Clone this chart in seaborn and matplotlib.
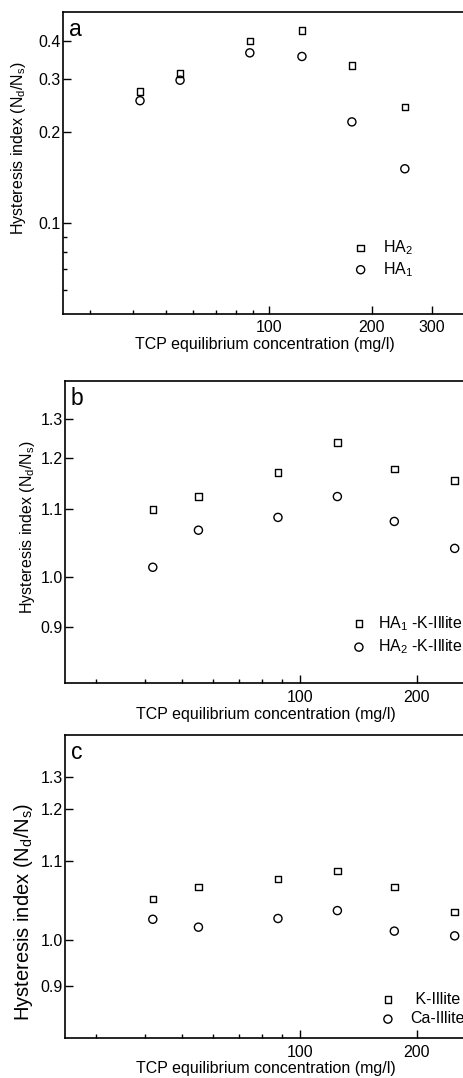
import numpy as np
import seaborn as sns
import matplotlib.pyplot as plt
from matplotlib.ticker import FixedLocator, NullFormatter, FormatStrFormatter

sns.set_style('ticks')
plt.rcParams['font.family'] = ['Liberation Sans', 'DejaVu Sans']
plt.rcParams['mathtext.fontset'] = 'custom'
plt.rcParams['mathtext.rm'] = 'Liberation Sans'
plt.rcParams['mathtext.it'] = 'Liberation Sans:italic'
plt.rcParams['text.color'] = 'black'
plt.rcParams['axes.labelcolor'] = 'black'
plt.rcParams['xtick.color'] = 'black'
plt.rcParams['ytick.color'] = 'black'

# TCP equilibrium concentration (mg/l)
conc = [42, 55, 88, 125, 175, 250]

# panel a
a_ha2 = [0.272, 0.313, 0.401, 0.434, 0.332, 0.242]
a_ha1 = [0.254, 0.297, 0.366, 0.356, 0.216, 0.151]
# panel b
b_ha1_k = [1.100, 1.125, 1.172, 1.240, 1.179, 1.156]
b_ha2_k = [1.014, 1.069, 1.088, 1.125, 1.082, 1.042]
# panel c
c_k = [1.052, 1.067, 1.077, 1.087, 1.067, 1.035]
c_ca = [1.026, 1.016, 1.027, 1.037, 1.011, 1.005]

y_ticks_bc = [0.9, 1.0, 1.1, 1.2, 1.3]

# the original y axes of b and c are unevenly spaced; positions (px from bottom)
b_scale_vals = [0.8, 0.9, 1.0, 1.1, 1.2, 1.3, 1.4]
b_scale_pos = [0, 56, 106.6, 174, 225, 264, 302.3]
c_scale_pos = [0, 51.6, 98.3, 177.3, 229.3, 261.6, 303.3]

W, H = 464, 1078
fig = plt.figure(figsize=(W / 100, H / 100), dpi=100)


def px_axes(left, top, right, bottom):
    return fig.add_axes([left / W, 1 - bottom / H, (right - left) / W, (bottom - top) / H])


ax_a = px_axes(63, 12, 467, 313.5)
ax_b = px_axes(65, 381, 467.7, 683.3)
ax_c = px_axes(65, 735, 467.7, 1038)

FS = 11.5
sq = dict(marker='s', s=22, facecolor='none', edgecolor='black', linewidth=1.0)
ci = dict(marker='o', s=34, facecolor='none', edgecolor='black', linewidth=1.0)

sns.scatterplot(x=conc, y=a_ha2, label='HA$_2$', ax=ax_a, **sq)
sns.scatterplot(x=conc, y=a_ha1, label='HA$_1$', ax=ax_a, **ci)

sns.scatterplot(x=conc, y=b_ha1_k, label='HA$_1$ -K-Illite', ax=ax_b, **sq)
sns.scatterplot(x=conc, y=b_ha2_k, label='HA$_2$ -K-Illite', ax=ax_b, **ci)

sns.scatterplot(x=conc, y=c_k, label=' K-Illite', ax=ax_c, **sq)
sns.scatterplot(x=conc, y=c_ca, label='Ca-Illite', ax=ax_c, **ci)


def make_scale(pos):
    fwd = lambda y: np.interp(y, b_scale_vals, pos)
    inv = lambda p: np.interp(p, pos, b_scale_vals)
    return fwd, inv


# axes a
ax_a.set_xscale('log')
ax_a.set_yscale('log')
ax_a.set_xlim(25, 380)
ax_a.set_ylim(0.05, 0.5)
ax_a.xaxis.set_major_locator(FixedLocator([100, 200, 300]))
ax_a.yaxis.set_major_locator(FixedLocator([0.1, 0.2, 0.3, 0.4]))
ax_a.yaxis.set_minor_locator(FixedLocator([0.06, 0.07, 0.08, 0.09]))
ax_a.yaxis.set_major_formatter(FormatStrFormatter('%.1f'))

# axes b, c
ax_b.set_yscale('function', functions=make_scale(b_scale_pos))
ax_c.set_yscale('function', functions=make_scale(c_scale_pos))
for ax in (ax_b, ax_c):
    ax.set_xscale('log')
    ax.set_xlim(25, 270)
    ax.set_ylim(0.8, 1.4)
    ax.xaxis.set_major_locator(FixedLocator([100, 200]))
    ax.yaxis.set_major_locator(FixedLocator(y_ticks_bc))
    ax.yaxis.set_minor_locator(FixedLocator([]))
    ax.yaxis.set_major_formatter(FormatStrFormatter('%.1f'))

ylab = 'Hysteresis index (N$_\\mathrm{d}$/N$_\\mathrm{s}$)'
label_x = {ax_a: (28.5, 63, 404, 147.5, 12, 301.5, FS),
           ax_b: (37, 65, 402.7, 526.5, 381, 302.3, FS),
           ax_c: (35, 65, 402.7, 911.5, 735, 303, 14.5)}

for ax, letter in ((ax_a, 'a'), (ax_b, 'b'), (ax_c, 'c')):
    ax.xaxis.set_major_formatter(FormatStrFormatter('%d'))
    ax.xaxis.set_minor_locator(FixedLocator([30, 40, 50, 60, 70, 80, 90]))
    ax.xaxis.set_minor_formatter(NullFormatter())
    ax.yaxis.set_minor_formatter(NullFormatter())
    ax.tick_params(which='both', direction='in', top=False, right=False,
                   width=1.0, labelsize=FS)
    ax.tick_params(which='major', length=6)
    ax.tick_params(which='minor', length=3)
    ax.tick_params(axis='x', pad=5)
    ax.tick_params(axis='y', pad=1.5)
    for sp in ax.spines.values():
        sp.set_linewidth(1.2)
        sp.set_color('black')
    ax.spines['right'].set_visible(False)
    ax.set_xlabel('TCP equilibrium concentration (mg/l)', fontsize=FS, labelpad=1)
    rx, left, width, cy, top, height, lfs = label_x[ax]
    ax.set_ylabel(ylab, fontsize=lfs)
    ax.yaxis.set_label_coords((rx - left) / width, (top + height - cy) / height)
    ax.text(0.015, 0.92, letter, transform=ax.transAxes, fontsize=16.5,
            ha='left', va='baseline')

ax_a.legend(loc='center left', bbox_to_anchor=(0.717, 0.183), frameon=False,
            fontsize=FS, borderpad=0, borderaxespad=0, handlelength=1.0,
            handletextpad=0.9, labelspacing=0.2)
ax_b.legend(loc='center left', bbox_to_anchor=(0.710, 0.160), frameon=False,
            fontsize=FS, borderpad=0, borderaxespad=0, handlelength=1.0,
            handletextpad=0.67, labelspacing=0.3)
ax_c.legend(loc='center left', bbox_to_anchor=(0.782, 0.096), frameon=False,
            fontsize=FS, borderpad=0, borderaxespad=0, handlelength=1.0,
            handletextpad=0.92, labelspacing=0.3)

fig.savefig('out.png', dpi=100)
